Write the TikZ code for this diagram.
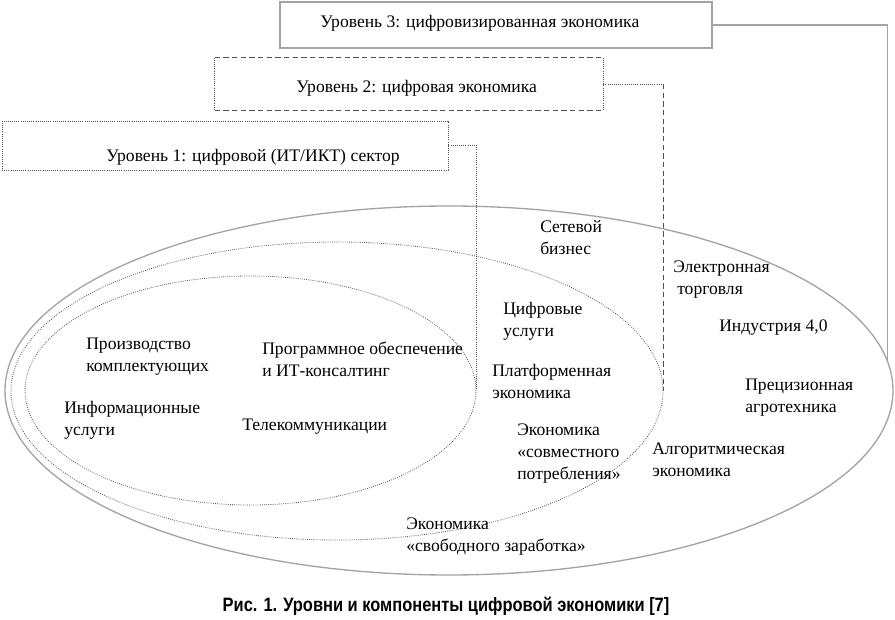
\documentclass[tikz,border=0pt]{standalone}
\usepackage{fontspec}
\setmainfont{Liberation Serif}
\newfontfamily\capfont[FakeStretch=0.85]{Liberation Sans}
\usetikzlibrary{shapes.geometric,positioning}
\definecolor{ringgray}{HTML}{A3A3A3}
\definecolor{dotgray}{HTML}{505050}
\tikzstyle{solidlink} = [ringgray, line width=1pt]
\tikzstyle{dotlink} = [dotgray, line width=0.6pt, densely dotted]
\tikzstyle{dashlink} = [dotgray, line width=0.6pt, dash pattern=on 4pt off 2.5pt]

\begin{document}
\begin{tikzpicture}[x=0.75pt, y=-0.75pt,
  lvlbox/.style={rectangle, inner sep=0pt},
  ring/.style={ellipse, inner sep=0pt},
  boxtext/.style={anchor=west, inner sep=0pt, font=\fontsize{13.2}{16}\selectfont},
  item/.style={anchor=west, align=left, inner sep=0pt, font=\fontsize{13.2}{16.5}\selectfont}]

\useasboundingbox (0,0) rectangle (895,620);

% three levels as nested ovals
\node[ring, draw=ringgray, line width=1pt, minimum width=666pt, minimum height=276.75pt] (outer) at (449,390.5) {};
\node[ring, draw=dotgray, line width=0.6pt, densely dotted, minimum width=489pt, minimum height=223.5pt] (mid) at (337,391) {};
\node[ring, draw=dotgray, line width=0.6pt, densely dotted, minimum width=338.25pt, minimum height=171.75pt] (inner) at (250.5,390.5) {};

% level boxes
\node[lvlbox, draw=ringgray, line width=1pt, minimum width=324pt, minimum height=34.5pt] (lvl3) at (496,25) {};
\node[lvlbox, minimum width=291pt, minimum height=39pt] (lvl2) at (409,84) {};
\draw[dashlink] (lvl2.north west) -- (lvl2.north east) (lvl2.south west) -- (lvl2.south east);
\draw[dotlink] (lvl2.north west) -- (lvl2.south west) (lvl2.north east) -- (lvl2.south east);
\node[lvlbox, dotlink, draw=dotgray, minimum width=334.5pt, minimum height=36.75pt] (lvl1) at (225,145.5) {};

\node[boxtext] (lvl3txt) at (320,23) {Уровень 3: цифровизированная экономика};
\node[boxtext] (lvl2txt) at (296,88) {Уровень 2: цифровая экономика};
\node[boxtext] (lvl1txt) at (106,157) {Уровень 1: цифровой (ИТ/ИКТ) сектор};

% connectors
\draw[solidlink] (lvl3.east) -| (outer.4);
\coordinate (turn2) at (lvl2.east -| mid.east);
\draw[dotlink] (lvl2.east) -- (turn2);
\draw[dashlink] (turn2) -- (mid.east);
\draw[dotlink] (lvl1.east) -| (inner.east);

% components
\node[item] (netbiz) at (540,238) {Сетевой\\бизнес};
\node[item] (ecom) at (673,280) {Электронная\\\hspace*{3pt}торговля};
\node[item] (digserv) at (503,321) {Цифровые\\услуги};
\node[item] (ind40) at (719,328) {Индустрия 4,0};
\node[item] (parts) at (86,357) {Производство\\комплектующих};
\node[item] (soft) at (262,359) {Программное обеспечение\\и ИТ-консалтинг};
\node[item] (platform) at (492,381) {Платформенная\\экономика};
\node[item] (agro) at (745,398) {Прецизионная\\агротехника};
\node[item] (infoserv) at (64,420) {Информационные\\услуги};
\node[item] (telecom) at (242,427) {Телекоммуникации};
\node[item] (sharing) at (517,454) {Экономика\\«совместного\\потребления»};
\node[item] (algo) at (652,460) {Алгоритмическая\\экономика};
\node[item] (gig) at (406,537) {Экономика\\«свободного заработка»};

\node[font=\capfont\bfseries\fontsize{14.5}{17}\selectfont, inner sep=0pt] (caption) at (446,606) {Рис. 1. Уровни и компоненты цифровой экономики [7]};
\end{tikzpicture}
\end{document}
